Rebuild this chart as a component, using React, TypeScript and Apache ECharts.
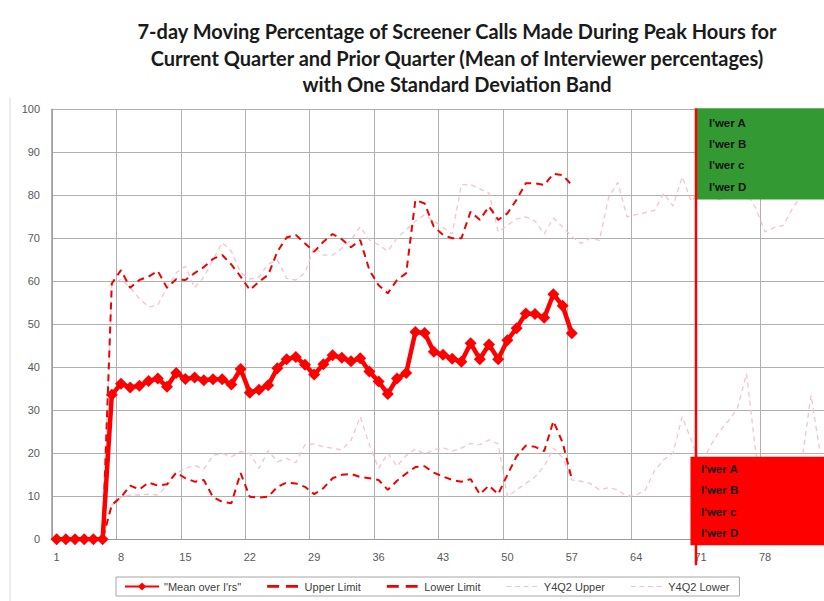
import React, { useEffect, useRef } from "react";
import * as echarts from "echarts";

const days: string[] = Array.from({ length: 84 }, (_, i) => String(i + 1));

const meanOverIrs = [
  0, 0, 0, 0, 0, 0, 33.6, 36.2, 35.3, 35.7, 36.8, 37.4, 35.5, 38.7, 37.3, 37.6, 37.0, 37.2, 37.2, 36.0,
  39.6, 34.1, 34.8, 35.8, 39.8, 41.9, 42.4, 40.6, 38.3, 40.7, 42.8, 42.2, 41.4, 42.1, 39.0, 36.7, 33.8,
  37.4, 38.7, 48.2, 48.0, 43.6, 42.9, 42.0, 41.3, 45.6, 41.9, 45.3, 41.9, 46.3, 49.1, 52.5, 52.4, 51.5,
  57.0, 54.3, 47.9,
];

const upperLimit = [
  0, 0, 0, 0, 0, 0, 59.5, 62.6, 58.5, 60.3, 61.1, 62.4, 58.5, 60.5, 60.3, 61.9, 63.3, 65.2, 66.1, 63.9,
  61.1, 58.0, 59.9, 61.5, 66.9, 70.2, 70.8, 68.8, 66.9, 69.2, 71.0, 69.8, 67.9, 69.6, 62.6, 59.1, 57.2,
  60.3, 61.9, 78.9, 78.1, 72.7, 70.8, 70.0, 70.0, 76.2, 74.3, 77.4, 74.3, 75.8, 79.0, 82.8, 82.8, 82.4,
  85.0, 84.7, 82.4,
];

const lowerLimit = [
  0, 0, 0, 0, 0, 0, 8.0, 9.8, 12.5, 11.6, 13.2, 12.5, 12.8, 15.5, 14.2, 13.4, 13.8, 9.8, 8.7, 8.4, 15.4,
  9.9, 9.7, 9.9, 12.2, 13.2, 13.0, 12.2, 10.5, 11.9, 14.2, 15.0, 15.2, 14.5, 14.2, 13.8, 11.5, 13.6,
  15.3, 16.8, 17.0, 15.5, 14.6, 13.8, 13.4, 14.0, 10.5, 12.5, 10.5, 15.0, 19.3, 21.8, 21.5, 20.5, 27.5,
  22.5, 14.0,
];

const y4q2Upper = [
  0, 0, 0, 0, 0, 0, 59, 60.5, 58.5, 56, 54, 54.5, 58.5, 62, 63.5, 58.5, 61, 65, 69, 67, 62, 60.5, 61, 64,
  65, 60.7, 60.3, 62, 68, 66.1, 66.1, 67.7, 69.6, 72.7, 69.6, 68.5, 67, 70, 72, 74, 75.5, 74, 72.5, 71,
  82.5, 82.5, 81.5, 80.5, 71.5, 73, 74.5, 75, 74, 71, 74.7, 72.7, 70.4, 68.8, 70, 69.5, 79.5, 83, 75,
  75.5, 76, 76.5, 80.5, 77.5, 84.3, 78.5, 82, 80, 79, 80, 81, 80.5, 77, 71.5, 72.5, 73, 77, 80, 81, 82,
];

const y4q2Lower = [
  0, 0, 0, 0, 0, 0, 8, 9.8, 10.3, 10.3, 10.5, 10.3, 12.5, 15.3, 16.5, 17.2, 16.3, 19.5, 20, 19.2, 20.4,
  20, 16.5, 20.6, 18, 18.8, 17.8, 22, 22.2, 21.5, 21.2, 20.8, 23, 28.5, 22, 16.5, 20, 17, 19.5, 21, 19.8,
  20.8, 21.3, 20.5, 21.2, 22.3, 22, 23.1, 22.2, 9.9, 11.5, 13, 14.5, 17, 21.2, 19, 13.8, 13.5, 13, 11.5,
  12, 11.5, 10, 10.3, 11.5, 16, 18.5, 20, 28.5, 23, 17, 21.5, 25, 27.5, 30.5, 38.5, 20, 12, 14, 16, 18,
  18, 33.5, 20,
];

const titleLines = [
  "7-day Moving Percentage of Screener Calls Made During Peak Hours for",
  "Current Quarter and Prior Quarter (Mean of Interviewer percentages)",
  "with One Standard Deviation Band",
];

const greenLabels = ["I'wer A", "I'wer B", "I'wer c", "I'wer D"];
const redLabels = ["I'wer A", "I'wer B", "I'wer c", "I'wer D"];
const markerDay = "71";

const dashIcon =
  "path://M0,0h0.05v0.05h-0.05z M0,10h0.05v0.05h-0.05z M0,3.6h12v2.8H0z M19,3.6h12v2.8H19z";
const pinkIcon =
  "path://M0,0h0.05v0.05h-0.05z M0,10h0.05v0.05h-0.05z M0,4.4h5v1.2H0z M8.6,4.4h5v1.2H8.6z M17.2,4.4h5v1.2H17.2z M25.8,4.4h5v1.2H25.8z";

export default function App() {
  const ref = useRef<HTMLDivElement>(null);

  useEffect(() => {
    if (!ref.current) return;
    const chart = echarts.init(ref.current, undefined, { renderer: "svg" });
    const font = "Liberation Sans";
    const limitStyle = { color: "#f00000", width: 2, type: [7, 5] as number[] };
    const pinkStyle = { color: "#f4c4cc", width: 1.3, type: [5, 4] as number[] };

    chart.setOption({
      animation: false,
      backgroundColor: "#ffffff",
      title: {
        text: titleLines.join("\n"),
        left: 452,
        textAlign: "center",
        top: 13,
        textStyle: {
          fontFamily: "Lato",
          fontWeight: "bold",
          fontSize: 20,
          lineHeight: 26.5,
          color: "#1a1a1a",
        },
      },
      grid: { left: 52, right: 15.2, top: 109.3, bottom: 61.7, containLabel: false },
      xAxis: {
        type: "category",
        data: days,
        boundaryGap: true,
        axisLine: { show: true, lineStyle: { color: "#9a9a9a", width: 1 } },
        axisTick: { show: false },
        axisLabel: {
          interval: 6,
          margin: 12,
          fontFamily: font,
          fontSize: 11,
          color: "#595959",
        },
        splitLine: { show: true, interval: 6, lineStyle: { color: "#b0b0b0", width: 1 } },
      },
      yAxis: {
        type: "value",
        min: 0,
        max: 100,
        interval: 10,
        axisLine: { show: true, lineStyle: { color: "#9a9a9a", width: 1.5 } },
        axisTick: { show: false },
        axisLabel: { margin: 12, fontFamily: font, fontSize: 11, color: "#595959" },
        splitLine: { show: true, lineStyle: { color: "#b0b0b0", width: 1 } },
      },
      legend: {
        left: 116,
        top: 577,
        orient: "horizontal",
        borderColor: "#a6a6a6",
        borderWidth: 1,
        padding: [4, 10, 4, 8],
        itemGap: 26,
        itemWidth: 34,
        itemHeight: 10,
        textStyle: { fontFamily: font, fontSize: 11, color: "#404040" },
        data: [
          { name: '"Mean over I\'rs"' },
          { name: "Upper Limit", icon: dashIcon },
          { name: "Lower Limit", icon: dashIcon },
          { name: "Y4Q2 Upper", icon: pinkIcon },
          { name: "Y4Q2 Lower", icon: pinkIcon },
        ],
      },
      series: [
        {
          name: "Y4Q2 Upper",
          type: "line",
          data: y4q2Upper,
          symbol: "none",
          lineStyle: pinkStyle,
          itemStyle: { color: "#f4c4cc" },
          z: 2,
        },
        {
          name: "Y4Q2 Lower",
          type: "line",
          data: y4q2Lower,
          symbol: "none",
          lineStyle: pinkStyle,
          itemStyle: { color: "#f4c4cc" },
          z: 2,
        },
        {
          name: "Upper Limit",
          type: "line",
          data: upperLimit,
          symbol: "none",
          lineStyle: limitStyle,
          itemStyle: { color: "#f00000" },
          z: 3,
        },
        {
          name: "Lower Limit",
          type: "line",
          data: lowerLimit,
          symbol: "none",
          lineStyle: limitStyle,
          itemStyle: { color: "#f00000" },
          z: 3,
        },
        {
          name: '"Mean over I\'rs"',
          type: "line",
          data: meanOverIrs,
          symbol: "diamond",
          symbolSize: 12,
          showAllSymbol: true,
          lineStyle: { color: "#ff0000", width: 4.5 },
          itemStyle: { color: "#ff0000" },
          z: 4,
        },
      ],
    });

    const c1 = chart.convertToPixel({ xAxisIndex: 0 }, "1") as number;
    const c2 = chart.convertToPixel({ xAxisIndex: 0 }, "2") as number;
    const bw = c2 - c1;
    const xm = (chart.convertToPixel({ xAxisIndex: 0 }, markerDay) as number) - bw / 2;
    const y100 = chart.convertToPixel({ yAxisIndex: 0 }, 100) as number;
    const y79 = chart.convertToPixel({ yAxisIndex: 0 }, 79) as number;
    const y19 = chart.convertToPixel({ yAxisIndex: 0 }, 19.2) as number;
    const y0 = chart.convertToPixel({ yAxisIndex: 0 }, 0) as number;
    const W = 824;

    const label = (x: number, y: number, t: string) => ({
      type: "text",
      x,
      y,
      z: 110,
      style: {
        text: t,
        fill: "#141414",
        font: "bold 11.5px 'Liberation Sans'",
        verticalAlign: "middle",
      },
    });

    const elements: any[] = [
      {
        type: "line",
        z: 100,
        shape: { x1: 10, y1: 98, x2: 10, y2: 601 },
        style: { stroke: "#d9d9d9", lineWidth: 1 },
      },
      {
        type: "rect",
        z: 100,
        shape: { x: xm + 1, y: y100 - 1, width: W - xm, height: y79 - y100 + 1 },
        style: { fill: "#339933" },
      },
      {
        type: "rect",
        z: 100,
        shape: { x: xm - 0.6 * bw, y: y19, width: W - xm + bw, height: y0 - y19 + 6 },
        style: { fill: "#ff0000" },
      },
      {
        type: "line",
        z: 105,
        shape: { x1: xm, y1: y100 - 1, x2: xm, y2: y0 + 26 },
        style: { stroke: "#ff0000", lineWidth: 2.5 },
      },
    ];
    greenLabels.forEach((t, i) => elements.push(label(xm + 13, y100 + 13.5 + i * 21.3, t)));
    redLabels.forEach((t, i) => elements.push(label(xm + 5, y19 + 12 + i * 21.4, t)));

    chart.setOption({ graphic: { elements } });

    return () => chart.dispose();
  }, []);

  return (
    <div
      style={{
        position: "absolute",
        left: 0,
        top: 0,
        width: 824,
        height: 601,
        overflow: "hidden",
        background: "#fff",
      }}
    >
      <div ref={ref} style={{ width: 840, height: 601 }} />
    </div>
  );
}
